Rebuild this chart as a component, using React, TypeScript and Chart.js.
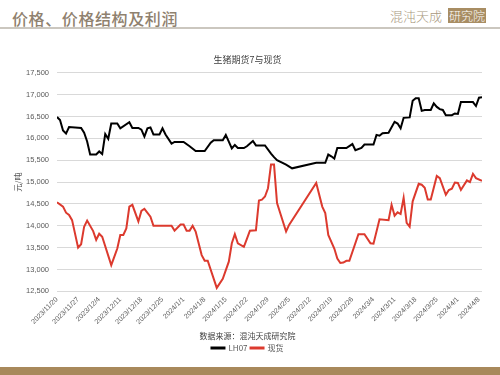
import React, { useEffect, useRef } from "react";
import { Chart, registerables } from "chart.js";

Chart.register(...registerables);

const START_DATE = "2023-11-20";
const END_DAY = 141;
const yTicks = [12500, 13000, 13500, 14000, 14500, 15000, 15500, 16000, 16500, 17000, 17500];

const futDates = [
  "2023-11-20","2023-11-21","2023-11-22","2023-11-23","2023-11-24","2023-11-28","2023-11-29","2023-11-30",
  "2023-12-01","2023-12-03","2023-12-04","2023-12-05","2023-12-06","2023-12-07","2023-12-08","2023-12-10",
  "2023-12-11","2023-12-14","2023-12-15","2023-12-17","2023-12-18","2023-12-19","2023-12-20","2023-12-21",
  "2023-12-22","2023-12-24","2023-12-25","2023-12-26","2023-12-28","2023-12-29","2024-01-01","2024-01-03",
  "2024-01-05","2024-01-08","2024-01-10","2024-01-11","2024-01-14","2024-01-15","2024-01-17","2024-01-18",
  "2024-01-19","2024-01-21","2024-01-22","2024-01-24","2024-01-25","2024-01-28","2024-01-30","2024-01-31",
  "2024-02-01","2024-02-04","2024-02-06","2024-02-14","2024-02-17","2024-02-18","2024-02-19","2024-02-20",
  "2024-02-21","2024-02-24","2024-02-26","2024-02-27","2024-02-29","2024-03-01","2024-03-04","2024-03-05",
  "2024-03-06","2024-03-07","2024-03-09","2024-03-11","2024-03-12","2024-03-13","2024-03-14","2024-03-16",
  "2024-03-17","2024-03-18","2024-03-19","2024-03-20","2024-03-21","2024-03-23","2024-03-24","2024-03-25",
  "2024-03-26","2024-03-27","2024-03-28","2024-03-30","2024-03-31","2024-04-01","2024-04-02","2024-04-06",
  "2024-04-07","2024-04-08","2024-04-09"
];
const futValues = [
  16490,16420,16180,16110,16260,16240,16130,15930,
  15630,15630,15700,15640,16100,15990,16340,16340,
  16230,16370,16240,16240,16200,16040,16230,16250,
  16090,16090,16230,16090,15880,15920,15920,15820,
  15710,15710,15900,15960,15960,16080,15770,15850,
  15780,15780,15820,15940,15840,15840,15650,15570,
  15500,15400,15315,15440,15440,15630,15590,15540,
  15780,15780,15870,15730,15780,15860,15860,16080,
  16060,16120,16130,16380,16340,16230,16470,16480,
  16860,16920,16920,16630,16650,16650,16800,16720,
  16670,16650,16530,16530,16570,16560,16830,16830,
  16740,16930,16940
];

const spotDates = [
  "2023-11-20","2023-11-22","2023-11-23","2023-11-24","2023-11-25","2023-11-27","2023-11-28","2023-11-29",
  "2023-11-30","2023-12-02","2023-12-03","2023-12-04","2023-12-05","2023-12-08","2023-12-09","2023-12-10",
  "2023-12-11","2023-12-12","2023-12-13","2023-12-14","2023-12-15","2023-12-17","2023-12-18","2023-12-19",
  "2023-12-21","2023-12-22","2023-12-28","2023-12-29","2023-12-31","2024-01-01","2024-01-02","2024-01-03",
  "2024-01-04","2024-01-05","2024-01-07","2024-01-08","2024-01-09","2024-01-12","2024-01-14","2024-01-16",
  "2024-01-17","2024-01-18","2024-01-19","2024-01-21","2024-01-22","2024-01-23","2024-01-25","2024-01-26",
  "2024-01-27","2024-01-28","2024-01-29","2024-01-30","2024-01-31","2024-02-01","2024-02-04","2024-02-05",
  "2024-02-14","2024-02-16","2024-02-17","2024-02-18","2024-02-20","2024-02-21","2024-02-22","2024-02-23",
  "2024-02-24","2024-02-25","2024-02-28","2024-03-01","2024-03-03","2024-03-04","2024-03-06","2024-03-09",
  "2024-03-10","2024-03-11","2024-03-12","2024-03-13","2024-03-14","2024-03-15","2024-03-16","2024-03-17",
  "2024-03-19","2024-03-20","2024-03-21","2024-03-22","2024-03-23","2024-03-25","2024-03-26","2024-03-28",
  "2024-03-29","2024-03-30","2024-03-31","2024-04-01","2024-04-02","2024-04-04","2024-04-05","2024-04-06",
  "2024-04-07","2024-04-09"
];
const spotValues = [
  14540,14440,14300,14250,14130,13500,13580,13980,
  14120,13880,13680,13820,13750,13100,13290,13480,
  13790,13790,13940,14440,14480,14100,14340,14390,
  14210,14000,14000,13890,14030,14030,13890,13890,
  14000,13870,13330,13200,13200,12580,12790,13180,
  13600,13810,13600,13520,13700,13890,13900,14580,
  14600,14670,14860,15400,15400,14520,13870,14020,
  14980,14440,14290,13790,13480,13250,13150,13160,
  13200,13200,13810,13810,13600,13590,14150,14130,
  14480,14230,14310,14270,14640,14070,13980,14560,
  14960,14940,14870,14600,14600,15140,15090,14710,
  14820,14850,14990,14980,14820,15040,15000,15190,
  15090,15030
];

const seriesNames = ["LH07", "现货"];
const chartTitle = "生猪期货7与现货";
const sourceText = "数据来源：混沌天成研究院";
const yAxisTitle = "元/吨";

const DAY_MS = 86400000;
const parseUTC = (s: string) => {
  const [y, m, d] = s.split("-").map(Number);
  return Date.UTC(y, m - 1, d);
};
const startMs = parseUTC(START_DATE);
const toDay = (s: string) => Math.round((parseUTC(s) - startMs) / DAY_MS);
const dayLabel = (n: number) => {
  const dt = new Date(startMs + n * DAY_MS);
  return `${dt.getUTCFullYear()}/${dt.getUTCMonth() + 1}/${dt.getUTCDate()}`;
};

export default function App() {
  const ref = useRef<HTMLCanvasElement | null>(null);

  useEffect(() => {
    if (!ref.current) return;
    const font = "'Noto Sans CJK SC', 'DejaVu Sans', sans-serif";
    const tickFont = "'Liberation Sans', 'Noto Sans CJK SC', sans-serif";
    const chart = new Chart(ref.current, {
      type: "line",
      data: {
        datasets: [
          {
            label: seriesNames[0],
            data: futDates.map((d, i) => ({ x: toDay(d), y: futValues[i] })),
            borderColor: "#000000",
            backgroundColor: "#000000",
            borderWidth: 2,
            pointRadius: 0,
            tension: 0,
          },
          {
            label: seriesNames[1],
            data: spotDates.map((d, i) => ({ x: toDay(d), y: spotValues[i] })),
            borderColor: "#dc3a2e",
            backgroundColor: "#dc3a2e",
            borderWidth: 2,
            pointRadius: 0,
            tension: 0,
          },
        ],
      },
      options: {
        animation: false,
        responsive: false,
        maintainAspectRatio: false,
        layout: { padding: { left: 13, right: 18, top: 0, bottom: 0 } },
        scales: {
          x: {
            type: "linear",
            min: 0,
            max: END_DAY,
            grid: { display: false, drawTicks: false },
            border: { display: false },
            afterBuildTicks: (axis: any) => {
              const t = [];
              for (let v = 0; v <= END_DAY; v += 7) t.push({ value: v });
              axis.ticks = t;
            },
            afterFit: (axis: any) => {
              axis.height = 36;
              axis.paddingLeft = 0;
            },
            ticks: {
              minRotation: 45,
              maxRotation: 45,
              autoSkip: false,
              padding: 4,
              color: "#595959",
              font: { family: tickFont, size: 7 },
              callback: (v: any) => dayLabel(Number(v)),
            },
          },
          y: {
            min: yTicks[0],
            max: yTicks[yTicks.length - 1],
            afterBuildTicks: (axis: any) => {
              axis.ticks = yTicks.map((v) => ({ value: v }));
            },
            afterFit: (axis: any) => {
              axis.width = 44;
            },
            grid: { color: "#d9d9d9", lineWidth: 1, drawTicks: false },
            border: { display: false },
            title: {
              display: true,
              text: yAxisTitle,
              color: "#595959",
              font: { family: font, size: 8 },
              padding: { top: 0, bottom: 4 },
            },
            ticks: {
              padding: 8,
              color: "#595959",
              font: { family: tickFont, size: 7.5 },
              callback: (v: any) => Number(v).toLocaleString("en-US"),
            },
          },
        },
        plugins: {
          title: {
            display: true,
            text: chartTitle,
            color: "#404040",
            font: { family: font, size: 9, weight: "normal" },
            padding: { top: 18, bottom: 8 },
          },
          subtitle: {
            display: true,
            text: sourceText,
            position: "bottom",
            weight: 500,
            color: "#404040",
            font: { family: font, size: 8 },
            padding: { top: 4, bottom: 0 },
          } as any,
          legend: {
            display: true,
            position: "bottom",
            labels: {
              boxWidth: 13,
              boxHeight: 1,
              color: "#595959",
              font: { family: font, size: 8 },
              padding: 3,
            },
          },
          tooltip: { enabled: false },
        },
      } as any,
    });
    return () => chart.destroy();
  }, []);

  return (
    <div style={{ position: "fixed", left: 0, top: 0, width: 500, height: 375, background: "#ffffff", overflow: "hidden" }}>
      <div
        style={{
          position: "absolute",
          left: 12,
          top: 7,
          fontFamily: "'Noto Sans CJK SC', sans-serif",
          fontSize: 16,
          lineHeight: "22px",
          color: "#8f816e",
          fontWeight: 500,
          letterSpacing: 0.6,
        }}
      >
        价格、价格结构及利润
      </div>
      <div
        style={{
          position: "absolute",
          left: 390,
          top: 7,
          fontFamily: "'Noto Sans CJK SC', sans-serif",
          fontSize: 13,
          lineHeight: "17px",
          color: "#a8977d",
          fontWeight: 300,
        }}
      >
        混沌天成
      </div>
      <div
        style={{
          position: "absolute",
          left: 448,
          top: 8,
          width: 38,
          height: 15,
          background: "#a88d63",
          color: "#ffffff",
          fontFamily: "'Noto Sans CJK SC', sans-serif",
          fontSize: 12,
          lineHeight: "15px",
          textAlign: "center",
          fontWeight: 300,
        }}
      >
        研究院
      </div>
      <div style={{ position: "absolute", left: 0, top: 27, width: 500, height: 2, background: "#cbc7bf" }} />
      <canvas ref={ref} width={500} height={326} style={{ position: "absolute", left: 0, top: 36, width: 500, height: 326 }} />
      <div style={{ position: "absolute", left: 0, top: 367, width: 500, height: 8, background: "#a8895b" }} />
    </div>
  );
}
